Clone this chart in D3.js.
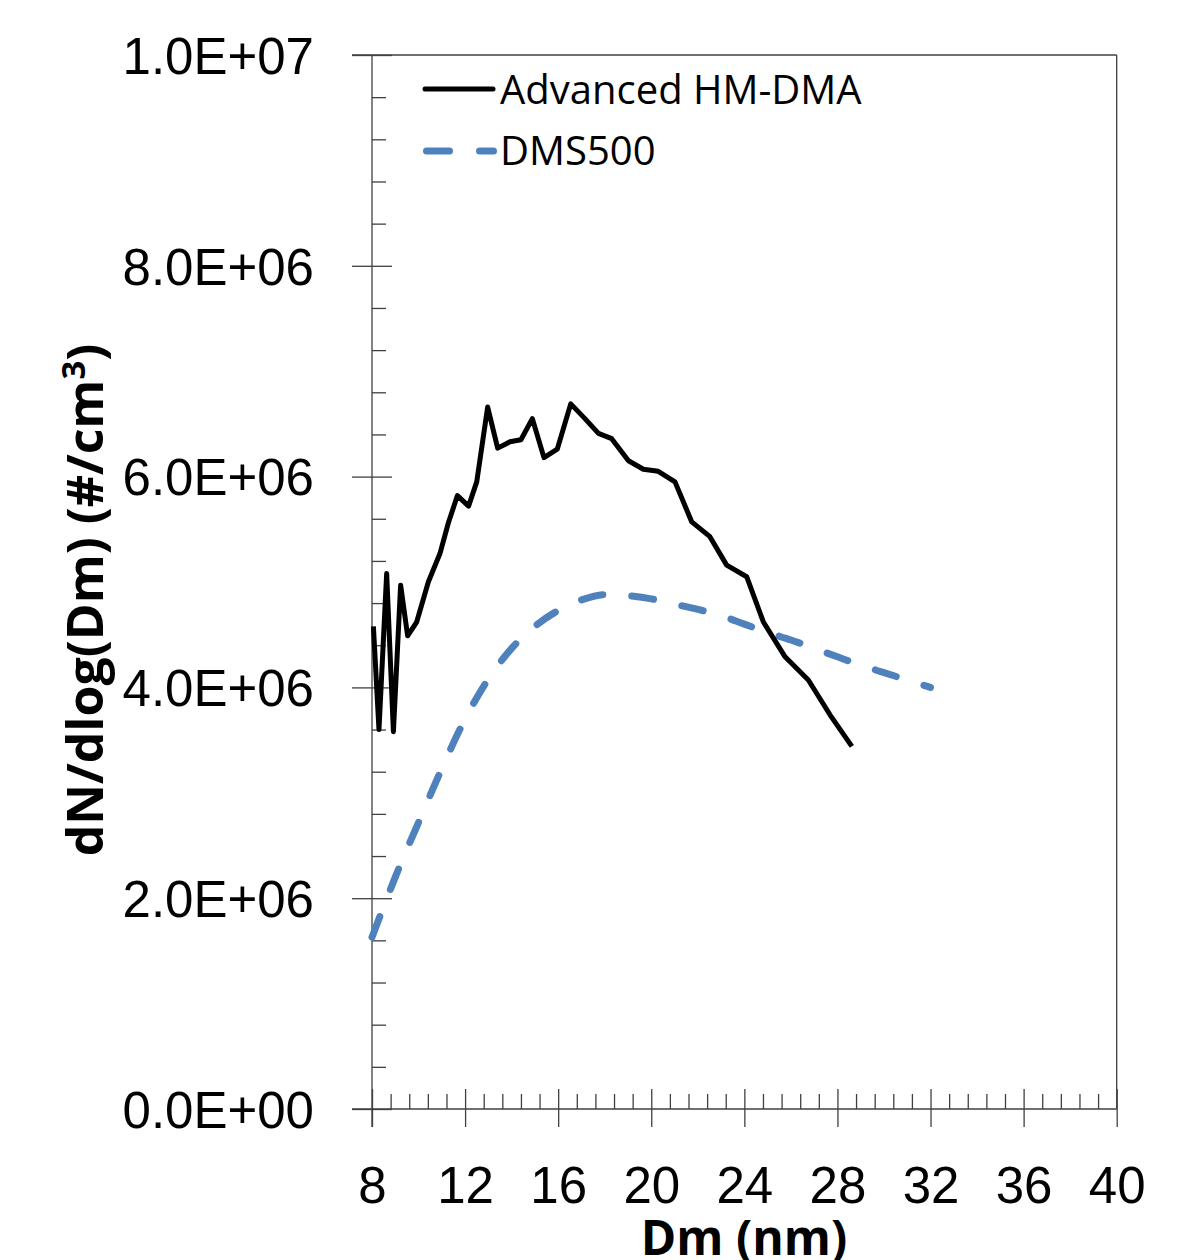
<!DOCTYPE html>
<html>
<head>
  <meta charset="utf-8">
  <style>
    html, body {
      margin: 0;
      padding: 0;
      background: #fff;
      width: 100%;
      height: 100%;
      overflow: hidden;
    }
    svg { display: block; }
    .axis path { display: none; }
    .axis line { stroke: #404040; stroke-width: 1.3px; }
    .tick-label text {
      font-family: "Liberation Sans Narrow", "Arial Narrow", "Liberation Sans", sans-serif;
      font-size: 51px;
      fill: #000;
    }
    .title {
      font-family: "Open Sans", sans-serif;
      font-weight: bold;
      fill: #000;
    }
    .legend text {
      font-family: "Open Sans", sans-serif;
      font-size: 40px;
      fill: #000;
    }
  </style>
</head>
<body>
  <svg width="1199" height="1260"></svg>

  <script src="https://d3js.org/d3.v7.min.js"></script>
  <script>
    // Advanced HM-DMA (solid black)
    const hmDm = [8.06, 8.3, 8.63, 8.92, 9.23, 9.53, 9.92, 10.42, 10.92, 11.28, 11.67, 12.15, 12.5,
      12.97, 13.4, 13.93, 14.4, 14.89, 15.39, 15.96, 16.54, 17.15, 17.73, 18.3, 19.02, 19.66,
      20.3, 21.02, 21.74, 22.52, 23.24, 24.1, 24.82, 25.75, 26.75, 27.68, 28.62];
    const hmN = [4.58e6, 3.6e6, 5.08e6, 3.58e6, 4.97e6, 4.49e6, 4.62e6, 5.0e6, 5.27e6, 5.56e6,
      5.82e6, 5.72e6, 5.95e6, 6.66e6, 6.27e6, 6.33e6, 6.35e6, 6.55e6, 6.18e6, 6.26e6, 6.69e6,
      6.55e6, 6.41e6, 6.36e6, 6.15e6, 6.07e6, 6.05e6, 5.95e6, 5.57e6, 5.43e6, 5.16e6, 5.05e6,
      4.62e6, 4.29e6, 4.07e6, 3.74e6, 3.44e6];

    // DMS500 (dashed blue)
    const dmsDm = [8, 9, 10, 11, 12, 13, 14, 15, 16, 17, 18, 19, 20, 21, 22, 23, 24, 25, 26,
      27, 28, 29, 30, 31, 32];
    const dmsN = [1.63e6, 2.2e6, 2.72e6, 3.23e6, 3.7e6, 4.08e6, 4.37e6, 4.58e6, 4.73e6, 4.83e6,
      4.88e6, 4.87e6, 4.84e6, 4.79e6, 4.74e6, 4.68e6, 4.6e6, 4.52e6, 4.45e6, 4.37e6, 4.29e6,
      4.21e6, 4.14e6, 4.07e6, 4.0e6];

    const xTicks = [8, 12, 16, 20, 24, 28, 32, 36, 40];
    const yTicks = [0, 2e6, 4e6, 6e6, 8e6, 1e7];
    const seriesNames = ["Advanced HM-DMA", "DMS500"];

    const svg = d3.select("svg");
    const mLeft = 372, mTop = 55, mRight = 1116.7, mBottom = 1109;

    const x = d3.scaleLinear().domain([8, 40]).range([mLeft, mRight]);
    const y = d3.scaleLinear().domain([0, 1e7]).range([mBottom, mTop]);

    const xMinor = d3.range(8, 40.001, 0.8).filter(v => !xTicks.some(t => Math.abs(t - v) < 1e-6));
    const yMinor = d3.range(0, 1e7 + 1, 4e5).filter(v => !yTicks.some(t => Math.abs(t - v) < 1));

    const fmt = d => d === 0 ? "0.0E+00" : d.toExponential(1).replace("e+", "E+").replace(/E\+(\d)$/, "E+0$1");

    // frame (top and right)
    svg.append("line").attr("x1", 352).attr("x2", mRight).attr("y1", mTop).attr("y2", mTop)
      .attr("stroke", "#404040").attr("stroke-width", 1.3);
    svg.append("line").attr("x1", mRight).attr("x2", mRight).attr("y1", mTop).attr("y2", mBottom)
      .attr("stroke", "#404040").attr("stroke-width", 1.3);
    // axis lines
    svg.append("line").attr("x1", 352).attr("x2", mRight).attr("y1", mBottom).attr("y2", mBottom)
      .attr("stroke", "#404040").attr("stroke-width", 1.3);
    svg.append("line").attr("x1", mLeft).attr("x2", mLeft).attr("y1", mTop).attr("y2", 1127)
      .attr("stroke", "#404040").attr("stroke-width", 1.3);

    // x axis: labels + outward major ticks
    const gx = svg.append("g").attr("class", "axis tick-label")
      .attr("transform", `translate(0,${mBottom})`)
      .call(d3.axisBottom(x).tickValues(xTicks).tickSize(18).tickFormat(d3.format("d")));
    gx.selectAll("text").attr("y", 94).attr("dy", null);
    svg.append("g").attr("class", "axis")
      .attr("transform", `translate(0,${mBottom})`)
      .call(d3.axisTop(x).tickValues(xTicks).tickSize(20).tickFormat(""));
    svg.append("g").attr("class", "axis")
      .attr("transform", `translate(0,${mBottom})`)
      .call(d3.axisTop(x).tickValues(xMinor).tickSize(15).tickFormat(""));

    // y axis
    const gy = svg.append("g").attr("class", "axis tick-label")
      .attr("transform", `translate(${mLeft},0)`)
      .call(d3.axisLeft(y).tickValues(yTicks).tickSize(20).tickFormat(fmt));
    gy.selectAll("text").attr("x", -58).attr("dy", "0.36em");
    svg.append("g").attr("class", "axis")
      .attr("transform", `translate(${mLeft},0)`)
      .call(d3.axisRight(y).tickValues(yTicks).tickSize(20).tickFormat(""));
    svg.append("g").attr("class", "axis")
      .attr("transform", `translate(${mLeft},0)`)
      .call(d3.axisRight(y).tickValues(yMinor).tickSize(14).tickFormat(""));

    // axis titles
    svg.append("text").attr("class", "title")
      .attr("x", 744).attr("y", 1255)
      .attr("text-anchor", "middle")
      .style("font-size", "48px")
      .text("Dm (nm)");

    const yt = svg.append("text").attr("class", "title")
      .attr("transform", "translate(103,600) rotate(-90)")
      .attr("text-anchor", "middle")
      .style("font-size", "50px");
    yt.append("tspan").text("dN/dlog(Dm) (#/cm");
    yt.append("tspan").attr("dy", -18).style("font-size", "33px").text("3");
    yt.append("tspan").attr("dy", 18).text(")");

    // lines
    const line = d3.line().curve(d3.curveMonotoneX).x(d => x(d[0])).y(d => y(d[1]));
    const rawLine = d3.line().x(d => x(d[0])).y(d => y(d[1]));
    const hmData = d3.zip(hmDm, hmN);
    const dmsData = d3.zip(dmsDm, dmsN);

    svg.append("path").datum(dmsData)
      .attr("d", line)
      .attr("fill", "none")
      .attr("stroke", "#4f81bd")
      .attr("stroke-width", 7)
      .attr("stroke-linecap", "round")
      .attr("stroke-dasharray", "22,29");

    svg.append("path").datum(hmData)
      .attr("d", rawLine)
      .attr("fill", "none")
      .attr("stroke", "#000")
      .attr("stroke-width", 5)
      .attr("stroke-linejoin", "round");

    // legend
    const legend = svg.append("g").attr("class", "legend");
    legend.append("line").attr("x1", 425).attr("x2", 493).attr("y1", 89).attr("y2", 89)
      .attr("stroke", "#000").attr("stroke-width", 5).attr("stroke-linecap", "round");
    legend.append("line").attr("x1", 426.5).attr("x2", 493.5).attr("y1", 151).attr("y2", 151)
      .attr("stroke", "#4f81bd").attr("stroke-width", 7).attr("stroke-linecap", "round")
      .attr("stroke-dasharray", "23,30");
    legend.selectAll("text.lab").data(seriesNames).join("text")
      .attr("class", "lab")
      .attr("x", 500)
      .attr("y", (d, i) => 104 + i * 61)
      .text(d => d);
  </script>
</body>
</html>
